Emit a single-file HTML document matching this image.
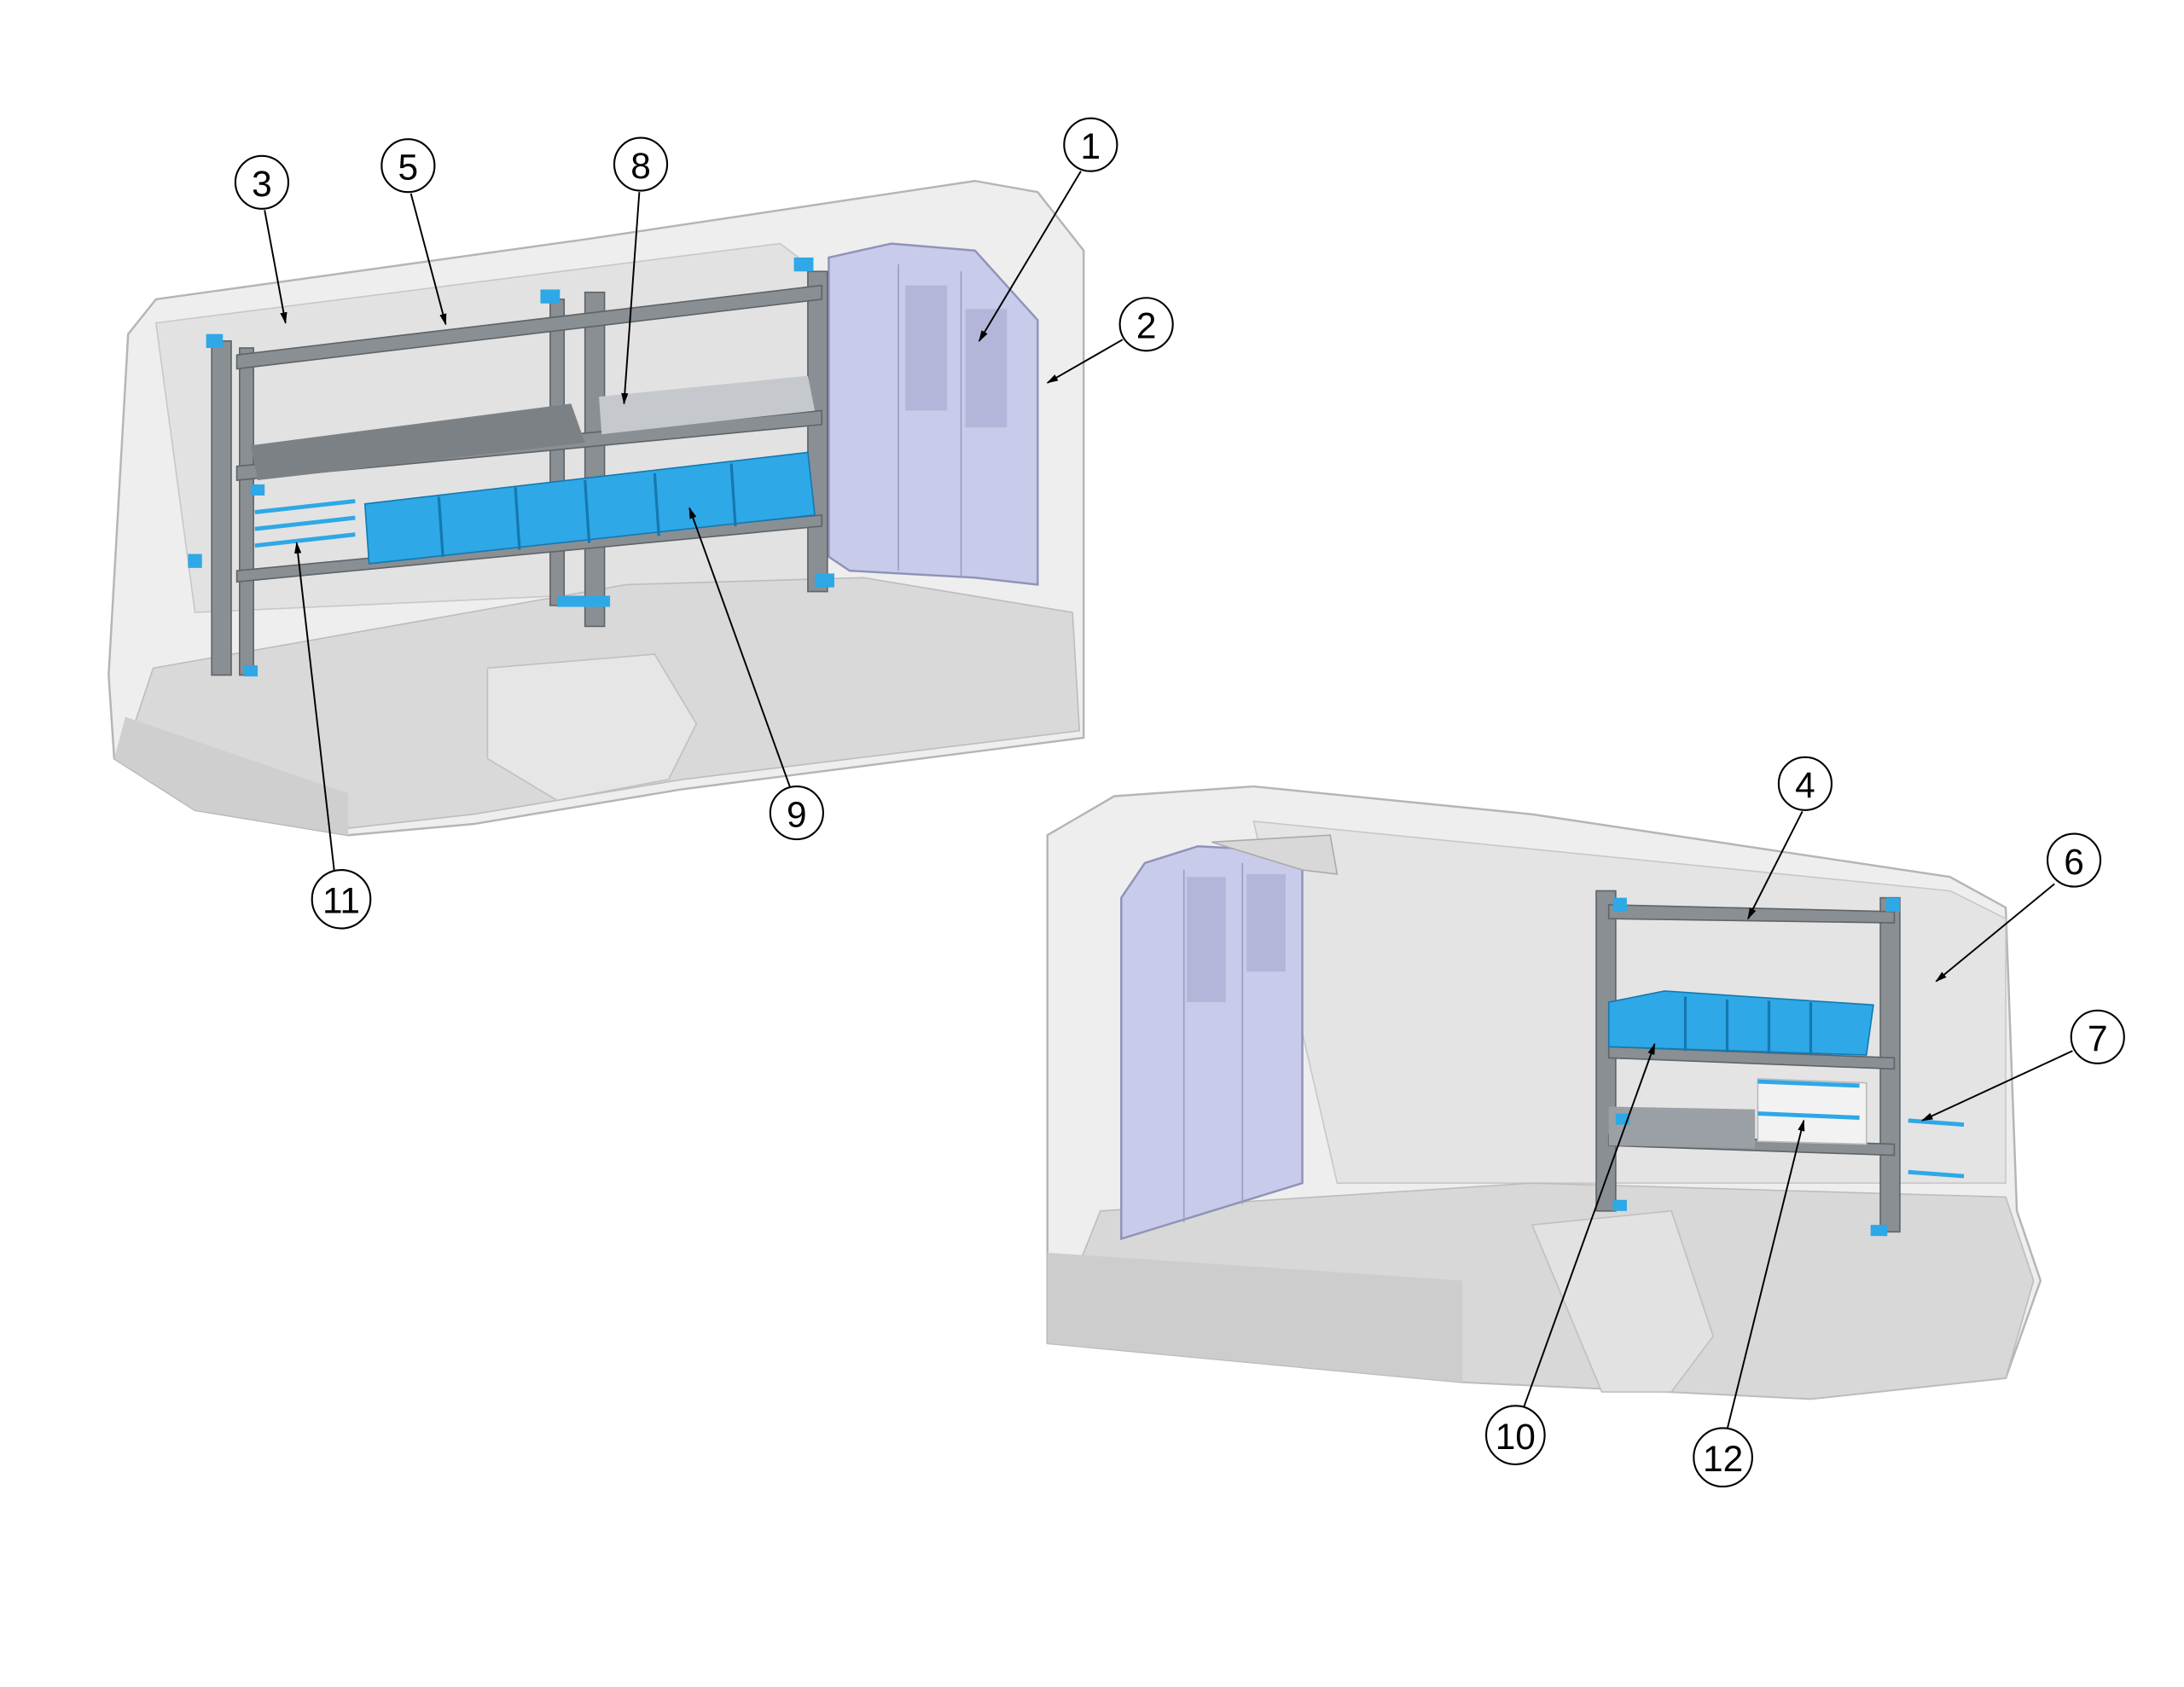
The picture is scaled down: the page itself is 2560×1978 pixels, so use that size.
<!DOCTYPE html>
<html><head><meta charset="utf-8"><style>
html,body{margin:0;padding:0;background:#fff;}
svg{display:block;}
text{font-family:"Liberation Sans",sans-serif;}
</style></head><body>
<svg width="2560" height="1978" viewBox="0 0 1568 1212" preserveAspectRatio="none" xmlns="http://www.w3.org/2000/svg">
<defs>
<marker id="ah" viewBox="0 0 10 10" refX="9" refY="5" markerWidth="7" markerHeight="7" orient="auto"><path d="M0,2 L10,5 L0,8 z" fill="#000"/></marker>
</defs>
<rect width="1600" height="1250" fill="#fff"/>

<!-- VAN 1 -->
<path d="M78,485 L92,240 L112,215 L420,172 L700,130 L745,138 L778,180 L778,530 L490,567 L340,592 L250,600 L140,582 L82,545 Z" fill="#eeeeee" stroke="#b5b5b5" stroke-width="1.5"/>
<path d="M112,232 L560,175 L580,190 L580,420 L140,440 Z" fill="#e2e2e2" stroke="#c8c8c8"/>
<path d="M110,480 L450,420 L620,415 L770,440 L775,525 L490,560 L340,585 L250,595 L140,578 L90,540 Z" fill="#d9d9d9" stroke="#bdbdbd"/>
<path d="M90,515 L250,570 L250,600 L140,582 L82,545 Z" fill="#cfcfcf"/>
<path d="M350,480 L470,470 L500,520 L480,560 L400,575 L350,545 Z" fill="#e6e6e6" stroke="#c0c0c0"/>
<!-- rear panel -->
<path d="M595,185 L640,175 L700,180 L745,230 L745,420 L700,415 L610,410 L595,400 Z" fill="#c8cbe9" stroke="#8f93b8" stroke-width="1.5"/>
<line x1="645" y1="190" x2="645" y2="410" stroke="#9a9ec2"/>
<line x1="690" y1="195" x2="690" y2="415" stroke="#9a9ec2"/>
<rect x="650" y="205" width="30" height="90" fill="#b3b6d8"/>
<rect x="693" y="222" width="30" height="85" fill="#b3b6d8"/>
<!-- shelving 1 -->
<g fill="#8a8f94" stroke="#5f6468" stroke-width="1">
<rect x="152" y="245" width="14" height="240"/>
<rect x="172" y="250" width="10" height="235"/>
<rect x="420" y="210" width="14" height="240"/>
<rect x="580" y="195" width="14" height="230"/>
<rect x="395" y="215" width="10" height="220"/>
<path d="M170,255 L590,205 L590,215 L170,265 Z"/>
<path d="M170,335 L590,295 L590,305 L170,345 Z"/>
<path d="M170,410 L590,370 L590,378 L170,418 Z"/>
</g>
<path d="M180,320 L410,290 L420,318 L185,345 Z" fill="#7c8186"/>
<path d="M430,285 L580,270 L585,295 L432,312 Z" fill="#c5c8cc"/>
<path d="M262,362 L580,325 L585,370 L265,405 Z" fill="#2ea8e6" stroke="#1479b0"/>
<g stroke="#1479b0" stroke-width="2"><line x1="315" y1="357" x2="318" y2="400"/><line x1="370" y1="350" x2="373" y2="395"/><line x1="420" y1="345" x2="423" y2="390"/><line x1="470" y1="340" x2="473" y2="385"/><line x1="525" y1="333" x2="528" y2="378"/></g>
<g fill="#2ea8e6"><rect x="148" y="240" width="12" height="10"/><rect x="570" y="185" width="14" height="10"/><rect x="388" y="208" width="14" height="10"/><rect x="180" y="348" width="10" height="8"/><rect x="135" y="398" width="10" height="10"/><rect x="400" y="428" width="38" height="8"/><rect x="585" y="412" width="14" height="10"/><rect x="175" y="478" width="10" height="8"/></g>
<g stroke="#2ea8e6" stroke-width="3"><line x1="183" y1="368" x2="255" y2="360"/><line x1="183" y1="380" x2="255" y2="372"/><line x1="183" y1="392" x2="255" y2="384"/></g>

<!-- VAN 2 -->
<path d="M752,600 L800,572 L900,565 L1100,585 L1400,630 L1440,652 L1448,870 L1465,920 L1440,990 L1300,1005 L1200,1000 L1050,993 L752,965 Z" fill="#eeeeee" stroke="#b5b5b5" stroke-width="1.5"/>
<path d="M900,590 L1400,640 L1440,660 L1440,850 L960,850 Z" fill="#e4e4e4" stroke="#c8c8c8"/>
<path d="M790,870 L1100,850 L1440,860 L1460,920 L1440,990 L1300,1005 L1200,1000 L1050,993 L752,965 Z" fill="#d8d8d8" stroke="#bdbdbd"/>
<path d="M752,900 L1050,920 L1050,993 L752,965 Z" fill="#cdcdcd"/>
<path d="M1100,880 L1200,870 L1230,960 L1200,1000 L1150,1000 Z" fill="#e2e2e2" stroke="#c0c0c0"/>
<!-- panel 2 -->
<path d="M822,620 L860,608 L935,612 L935,850 L805,890 L805,645 Z" fill="#c8cbe9" stroke="#8f93b8" stroke-width="1.5"/>
<line x1="850" y1="625" x2="850" y2="878" stroke="#9a9ec2"/>
<line x1="892" y1="620" x2="892" y2="865" stroke="#9a9ec2"/>
<rect x="852" y="630" width="28" height="90" fill="#b3b6d8"/>
<rect x="895" y="628" width="28" height="70" fill="#b3b6d8"/>
<path d="M870,605 L955,600 L960,628 L935,625 Z" fill="#d8d8d8" stroke="#aaa"/>
<!-- shelving 2 -->
<g fill="#8a8f94" stroke="#5f6468">
<rect x="1146" y="640" width="14" height="230"/>
<rect x="1350" y="645" width="14" height="240"/>
<path d="M1155,650 L1360,655 L1360,663 L1155,660 Z"/>
<path d="M1155,752 L1360,760 L1360,768 L1155,760 Z"/>
<path d="M1155,815 L1360,822 L1360,830 L1155,823 Z"/>
</g>
<path d="M1155,795 L1260,797 L1260,825 L1155,823 Z" fill="#9aa0a5"/>
<path d="M1262,775 L1340,778 L1340,822 L1262,820 Z" fill="#f2f2f2" stroke="#bbb"/>
<path d="M1155,720 L1195,712 L1345,722 L1340,758 L1155,752 Z" fill="#2ea8e6" stroke="#1479b0"/>
<g stroke="#1479b0" stroke-width="2"><line x1="1210" y1="716" x2="1210" y2="755"/><line x1="1240" y1="718" x2="1240" y2="756"/><line x1="1270" y1="719" x2="1270" y2="757"/><line x1="1300" y1="720" x2="1300" y2="758"/></g>
<g stroke="#2ea8e6" stroke-width="3"><line x1="1262" y1="777" x2="1335" y2="780"/><line x1="1262" y1="800" x2="1335" y2="803"/><line x1="1370" y1="805" x2="1410" y2="808"/><line x1="1370" y1="842" x2="1410" y2="845"/></g>
<g fill="#2ea8e6"><rect x="1158" y="645" width="10" height="10"/><rect x="1354" y="645" width="10" height="10"/><rect x="1158" y="862" width="10" height="8"/><rect x="1343" y="880" width="12" height="8"/><rect x="1160" y="800" width="10" height="8"/></g>

<!-- LEADERS -->
<g stroke="#000" stroke-width="1.2" fill="none" marker-end="url(#ah)">
<line x1="776" y1="123" x2="703" y2="245"/>
<line x1="806" y1="244" x2="752" y2="275"/>
<line x1="190" y1="151" x2="205" y2="232"/>
<line x1="295" y1="139" x2="320" y2="233"/>
<line x1="459" y1="138" x2="448" y2="290"/>
<line x1="567" y1="565" x2="495" y2="365"/>
<line x1="240" y1="626" x2="213" y2="390"/>
<line x1="1294" y1="583" x2="1255" y2="660"/>
<line x1="1475" y1="635" x2="1390" y2="705"/>
<line x1="1488" y1="755" x2="1380" y2="805"/>
<line x1="1094" y1="1011" x2="1188" y2="750"/>
<line x1="1240" y1="1027" x2="1295" y2="805"/>
</g>
<!-- CALLOUTS -->
<g fill="#fff" stroke="#000" stroke-width="1.3">
<circle cx="783" cy="104" r="19"/><circle cx="823" cy="233" r="19"/><circle cx="188" cy="131" r="19"/><circle cx="293" cy="119" r="19"/><circle cx="460" cy="118" r="19"/><circle cx="572" cy="584" r="19"/><circle cx="245" cy="646" r="21"/><circle cx="1296" cy="563" r="19"/><circle cx="1489" cy="618" r="19"/><circle cx="1506" cy="745" r="19"/><circle cx="1088" cy="1031" r="21"/><circle cx="1237" cy="1047" r="21"/>
</g>
<g font-size="26" text-anchor="middle" fill="#000">
<text x="783" y="114">1</text><text x="823" y="243">2</text><text x="188" y="141">3</text><text x="293" y="129">5</text><text x="460" y="128">8</text><text x="572" y="594">9</text><text x="245" y="656">11</text><text x="1296" y="573">4</text><text x="1489" y="628">6</text><text x="1506" y="755">7</text><text x="1088" y="1041">10</text><text x="1237" y="1057">12</text>
</g>
</svg>
</body></html>
